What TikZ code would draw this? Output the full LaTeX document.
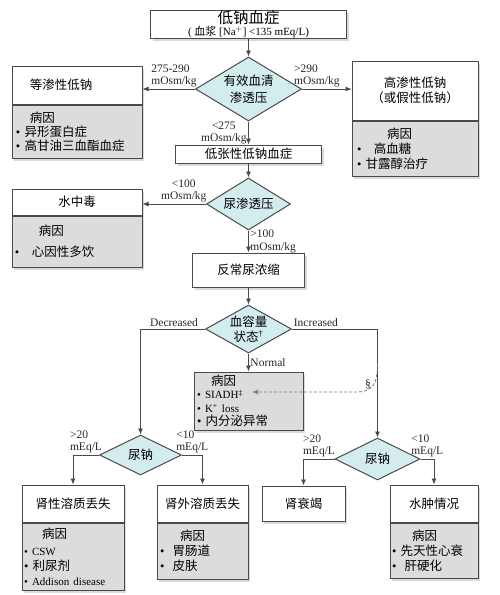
\documentclass[tikz,border=0pt]{standalone}
\usepackage{fontspec}
\setmainfont{Liberation Serif}
\newfontfamily\zhfont{Noto Sans CJK SC}
\usepackage{tikz}
\usetikzlibrary{positioning, shapes.geometric, shadows, arrows.meta}

\definecolor{linegray}{HTML}{4A4A4A}
\definecolor{causegray}{HTML}{DCDCDC}
\definecolor{decfill}{HTML}{D3ECEE}

\newcommand{\dotitem}{{\rmfamily\textbullet}\ }

\tikzset{
	box/.style={draw=linegray, line width=1pt, fill=white, inner sep=2pt, align=center,
		font=\zhfont\fontsize{12.5}{15}\selectfont,
		drop shadow={shadow xshift=2pt, shadow yshift=-2.5pt, opacity=0.3}},
	causes/.style={box, fill=causegray, align=left},
	decision/.style={diamond, draw=linegray, line width=1pt, fill=decfill, inner sep=0pt, align=center,
		font=\zhfont\fontsize{12.5}{17}\selectfont},
	flow/.style={draw=linegray, line width=0.9pt, -{Latex[length=6pt, width=5pt]}},
	lbl/.style={font=\fontsize{11.5}{12.5}\selectfont, align=left, inner sep=1.5pt, text=black!85},
}

\begin{document}
\begin{tikzpicture}[x=1pt, y=-1pt]
		\useasboundingbox (0,0) rectangle (500,595);
		
		%definition of the middle column
		\def\xmid{248.5};
		
		%title
		\node [box, minimum width=196pt, minimum height=27pt, inner sep=0pt] (hypona) at (\xmid,24.5)
			{{\fontsize{15.5}{15.5}\selectfont 低钠血症}\\[-3pt]{\rmfamily\fontsize{11}{11}\selectfont ( {\zhfont 血浆} [Na$^{+}$] <135 mEq/L)}};
		
		%serum osmolality
		\node [decision, minimum width=106pt, minimum height=64pt, aspect=1.66] (serum) at (\xmid,89) {有效血清\\渗透压};
		
		\node [box, minimum width=130pt, minimum height=38pt, text width=120pt, align=left] (iso) at (77,85) {\hspace*{13pt}等渗性低钠};
		\node [causes, below=0pt of iso, minimum width=130pt, minimum height=53pt, text width=122pt] (isocause)
			{\hspace*{14pt}病因\\[-1pt]\dotitem 异形蛋白症\\[-1pt]\dotitem 高甘油三血酯血症};
		
		\node [box, minimum width=126pt, minimum height=59pt] (hyper) at (415,90.5) {高渗性低钠\\（或假性低钠）};
		\node [causes, below=0pt of hyper, minimum width=126pt, minimum height=55pt, text width=116pt] (hypercause)
			{\hspace*{30pt}病因\\\dotitem\ \ 高血糖\\\dotitem 甘露醇治疗};
		
		\node [box, minimum width=146pt, minimum height=18pt, inner sep=0pt] (hypo) at (\xmid,154) {低张性低钠血症};
		
		%urine osmolality
		\node [decision, minimum width=84pt, minimum height=52pt, aspect=1.6] (urine) at (\xmid,204) {尿渗透压};
		
		\node [box, minimum width=130pt, minimum height=26pt] (water) at (77,202) {水中毒};
		\node [causes, below=0pt of water, minimum width=130pt, minimum height=51pt, text width=124pt] (watercause)
			{\hspace*{24pt}病因\\[6pt]\dotitem\ \ 心因性多饮};
		
		\node [box, minimum width=112pt, minimum height=34pt] (paradox) at (\xmid,270) {反常尿浓缩};
		
		%volume status
		\node [decision, minimum width=86pt, minimum height=48pt, aspect=1.8, font=\zhfont\fontsize{12.5}{15}\selectfont] (volume) at (\xmid,329)
			{血容量\\状态{\rmfamily\textsuperscript{\dag}}};
		
		\node [causes, minimum width=109pt, minimum height=58pt, text width=103pt, font=\zhfont\fontsize{12.5}{13.5}\selectfont] (normal) at (\xmid,401)
			{\hspace*{14pt}病因\\{\rmfamily\fontsize{11}{13}\selectfont\dotitem SIADH\textsuperscript{\ddag}}\\{\rmfamily\fontsize{11}{13}\selectfont\dotitem K\textsuperscript{+} loss}\\\dotitem 内分泌异常};
		
		%urine sodium
		\node [decision, minimum width=82pt, minimum height=40pt, aspect=2] (natleft) at (140.5,455) {尿钠};
		\node [decision, minimum width=85pt, minimum height=42pt, aspect=2] (natright) at (377.5,459) {尿钠};
		
		%bottom row
		\node [box, minimum width=102pt, minimum height=37pt] (renal) at (73,503.5) {肾性溶质丢失};
		\node [causes, below=0pt of renal, minimum width=102pt, minimum height=67pt, text width=98pt] (renalcause)
			{\hspace*{18pt}病因\\[2pt]{\rmfamily\fontsize{11}{13}\selectfont\dotitem CSW}\\\dotitem 利尿剂\\{\rmfamily\fontsize{11}{13}\selectfont\dotitem Addison disease}};
		
		\node [box, minimum width=91pt, minimum height=37pt] (extra) at (202.5,503.5) {肾外溶质丢失};
		\node [causes, below=0pt of extra, minimum width=91pt, minimum height=56pt, text width=85pt] (extracause)
			{\hspace*{20pt}病因\\\dotitem\ 胃肠道\\\dotitem\ 皮肤};
		
		\node [box, minimum width=83pt, minimum height=35pt] (failure) at (303.5,503.5) {肾衰竭};
		
		\node [box, minimum width=88pt, minimum height=37pt] (edema) at (434,503.5) {水肿情况};
		\node [causes, below=0pt of edema, minimum width=88pt, minimum height=55pt, text width=84pt] (edemacause)
			{\hspace*{20pt}病因\\\dotitem 先天性心衰\\\dotitem\ 肝硬化};
		
		%arrows
		\draw [flow] (hypona) -- (serum);
		\draw [flow] (serum.west) -- node [lbl, pos=0.4, above] {275-290\\mOsm/kg} (serum.west -| iso.east);
		\draw [flow] (serum.east) -- node [lbl, pos=0.3, above] {>290\\mOsm/kg} (serum.east -| hyper.west);
		\draw [flow] (serum) -- node [lbl, align=center, midway, left] {<275\\mOsm/kg} (hypo);
		\draw [flow] (hypo) -- (urine);
		\draw [flow] (urine.west) -- node [lbl, align=center, pos=0.35, above] {<100\\mOsm/kg} (urine.west -| water.east);
		\draw [flow] (urine) -- node [lbl, midway, right] {>100\\mOsm/kg} (paradox);
		\draw [flow] (paradox) -- (volume);
		\draw [flow] (volume.west) -| node [lbl, pos=0.24, above] {Decreased} (natleft.north);
		\draw [flow] (volume.east) -| node [lbl, pos=0.14, above] {Increased} (natright.north);
		\draw [flow] (volume) -- node [lbl, midway, right] {Normal} (normal);
		\draw [flow] (natleft.west) -| node [lbl, pos=0.25, above] {>20\\mEq/L} (renal.north);
		\draw [flow] (natleft.east) -| node [lbl, pos=0.25, above] {<10\\mEq/L} (extra.north);
		\draw [flow] (natright.west) -| node [lbl, pos=0.25, above] {>20\\mEq/L} (failure.north);
		\draw [flow] (natright.east) -| node [lbl, pos=0.25, above] {<10\\mEq/L} (edema.north);
		
		%dashed hint to SIADH
		\coordinate (hint) at (377.5,364);
		\coordinate (siadh) at (252,392);
		\draw [flow, draw=gray, dash pattern=on 3pt off 2pt] (hint) .. controls (377.5,385) and (372,392) .. (356,392) node [lbl, pos=0.45, left=1pt] {\S} -- (siadh);
	\end{tikzpicture}
\end{document}
